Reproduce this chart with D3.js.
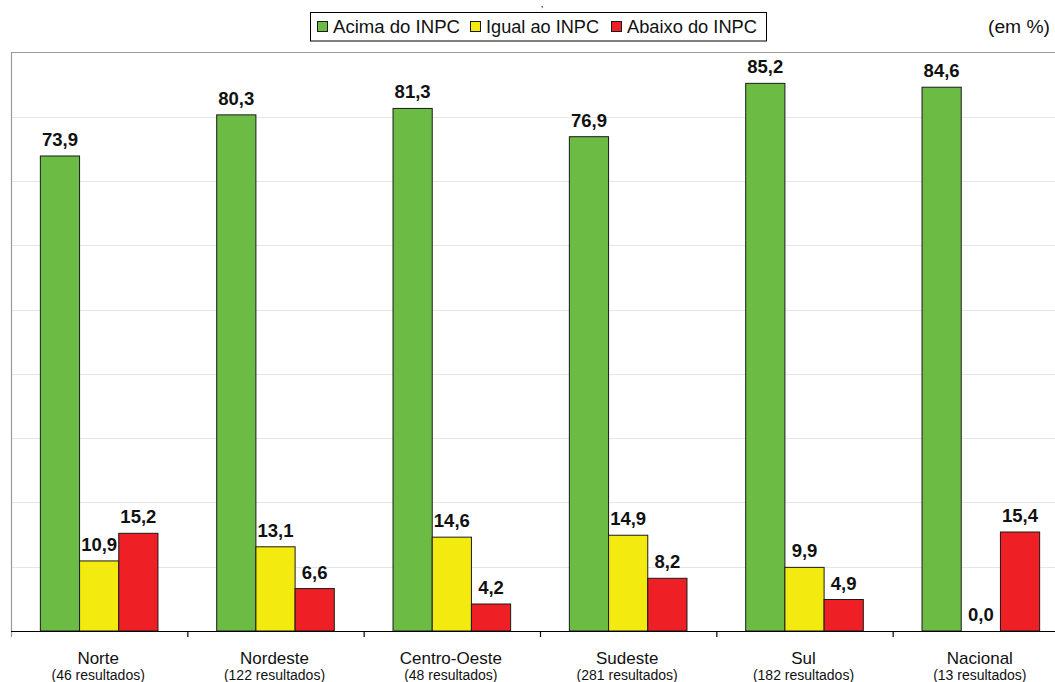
<!DOCTYPE html>
<html><head><meta charset="utf-8">
<script src="https://cdn.jsdelivr.net/npm/d3@7"></script>
<style>body{margin:0;background:#fff;}svg{display:block;font-family:"Liberation Sans",Arial,sans-serif;}</style>
</head><body>
<svg id="c" width="1055" height="682"></svg>
<script>
const categories = ["Norte","Nordeste","Centro-Oeste","Sudeste","Sul","Nacional"];
const subLabels = ["(46 resultados)","(122 resultados)","(48 resultados)","(281 resultados)","(182 resultados)","(13 resultados)"];
const seriesNames = ["Acima do INPC","Igual ao INPC","Abaixo do INPC"];
const acima = [73.9, 80.3, 81.3, 76.9, 85.2, 84.6];
const igual = [10.9, 13.1, 14.6, 14.9, 9.9, 0.0];
const abaixo = [15.2, 6.6, 4.2, 8.2, 4.9, 15.4];
const colors = ["#6cbb45","#f3ea0f","#ee1f25"];
const gridTicks = [10,20,30,40,50,60,70,80];

(function(){
const svg = d3.select("#c");
const pL = 11, pR = 1069, pT = 52.5, pB = 631;
const y = d3.scaleLinear().domain([0,90]).range([pB, pT]);
const x = d3.scaleBand().domain(categories).range([pL, pR]).padding(0);
const xs = d3.scaleBand().domain(seriesNames).range([0, x.bandwidth()]).paddingInner(0).paddingOuter(0.749);
const seriesData = [acima, igual, abaixo];

// title fragment (mostly cut off at top in the reference)
svg.append("text").attr("x", 541).attr("y", 7).attr("fill", "#1f2a6b")
  .attr("font-weight", "bold").attr("font-size", 8).text(",");

// gridlines
svg.append("g").selectAll("line").data(gridTicks).join("line")
  .attr("x1", pL).attr("x2", pR)
  .attr("y1", d => Math.round(y(d)) + 0.5).attr("y2", d => Math.round(y(d)) + 0.5)
  .attr("stroke", "#e6e6e6").attr("stroke-width", 1.2);

// plot border top & left
svg.append("line").attr("x1", pL).attr("x2", pR).attr("y1", pT).attr("y2", pT)
  .attr("stroke", "#9a9a9a").attr("stroke-width", 1.2);
svg.append("line").attr("x1", pL + 0.5).attr("x2", pL + 0.5).attr("y1", pT).attr("y2", pB + 6)
  .attr("stroke", "#9a9a9a").attr("stroke-width", 1.2);

// bars
const groups = svg.append("g").selectAll("g").data(categories).join("g")
  .attr("transform", d => `translate(${x(d)},0)`);
groups.each(function(cat, i) {
  const g = d3.select(this);
  seriesNames.forEach((s, j) => {
    const v = seriesData[j][i];
    if (v > 0) {
      g.append("rect").attr("x", xs(s)).attr("y", y(v))
        .attr("width", xs.bandwidth()).attr("height", y(0) - y(v))
        .attr("fill", colors[j]).attr("stroke", "#1a1a1a").attr("stroke-width", 1);
    }
    g.append("text").attr("x", xs(s) + xs.bandwidth() / 2).attr("y", y(v) - 10)
      .attr("text-anchor", "middle").attr("font-weight", "bold").attr("font-size", 18.5)
      .attr("fill", "#111").text(d3.format(".1f")(v).replace(".", ","));
  });
});

// x axis
const xAxis = d3.axisBottom(x).tickSize(0).tickFormat("");
const ax = svg.append("g").attr("transform", `translate(0,${pB})`).call(xAxis);
ax.select(".domain").attr("stroke", "#000").attr("stroke-width", 1.2).attr("d", `M${pL},0.5H${pR}`);
svg.append("g").selectAll("line").data(categories.slice(1)).join("line")
  .attr("x1", d => x(d) + 0.5).attr("x2", d => x(d) + 0.5)
  .attr("y1", pB).attr("y2", pB + 6).attr("stroke", "#000").attr("stroke-width", 1.2);

svg.append("g").selectAll("text").data(categories).join("text")
  .attr("x", d => x(d) + x.bandwidth() / 2 - 1).attr("y", 664)
  .attr("text-anchor", "middle").attr("font-size", 17).attr("fill", "#111").text(d => d);
svg.append("g").selectAll("text").data(subLabels).join("text")
  .attr("x", (d, i) => x(categories[i]) + x.bandwidth() / 2 - 1).attr("y", 680)
  .attr("text-anchor", "middle").attr("font-size", 14).attr("fill", "#111").text(d => d);

// legend
svg.append("rect").attr("x", 310.5).attr("y", 12.5).attr("width", 456).attr("height", 28.5)
  .attr("fill", "#fff").attr("stroke", "#000").attr("stroke-width", 1);
const legX = [317, 470, 611];
const legW = [127, 113, 130];
seriesNames.forEach((s, j) => {
  svg.append("rect").attr("x", legX[j] + 0.5).attr("y", 21.5).attr("width", 10).attr("height", 10)
    .attr("fill", colors[j]).attr("stroke", "#1a1a1a").attr("stroke-width", 1);
  svg.append("text").attr("x", legX[j] + 16).attr("y", 33).attr("font-size", 17.5)
    .attr("textLength", legW[j]).attr("lengthAdjust", "spacingAndGlyphs")
    .attr("fill", "#111").text(s);
});

svg.append("text").attr("x", 988).attr("y", 33)
  .attr("font-size", 17.5).attr("textLength", 62).attr("lengthAdjust", "spacingAndGlyphs")
  .attr("fill", "#111").text("(em %)");
})();
</script>
</body></html>
